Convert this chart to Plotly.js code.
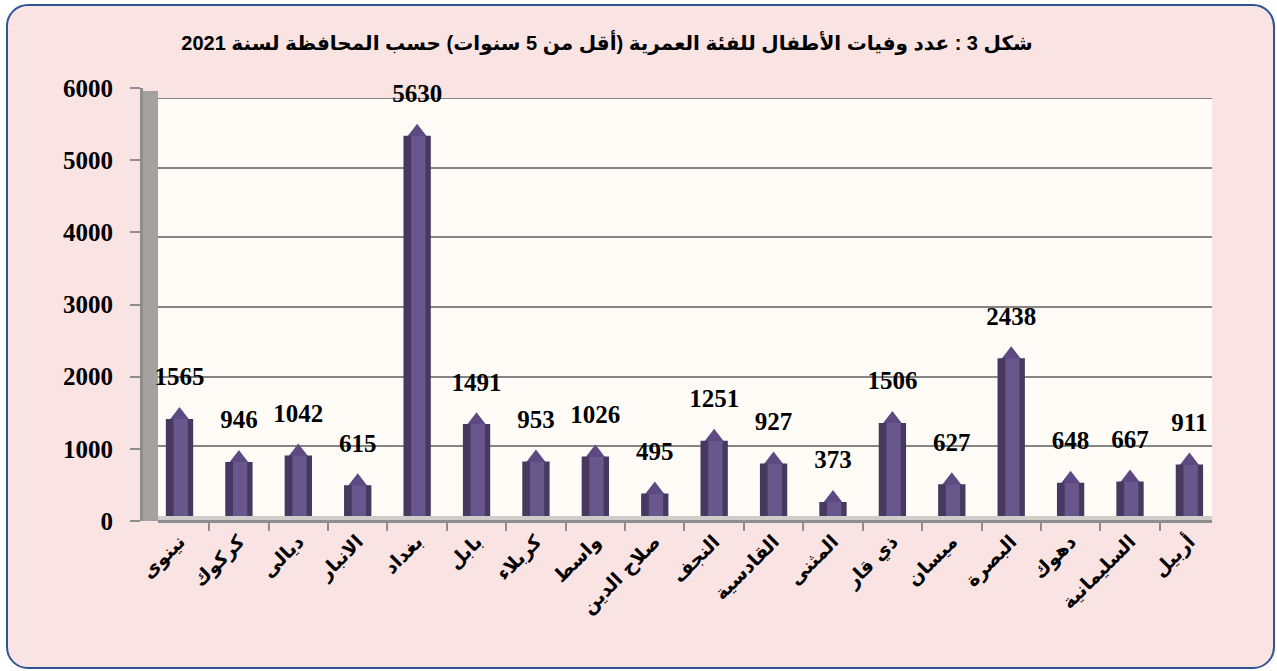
<!DOCTYPE html>
<html><head><meta charset="utf-8">
<script src="https://cdn.plot.ly/plotly-3.0.1.min.js"></script>
<style>
html,body{margin:0;padding:0;background:#ffffff;width:1277px;height:671px;overflow:hidden}
#frame{position:absolute;left:6px;top:4px;width:1265px;height:661px;border:2px solid #2F5496;border-radius:22px;background:#FAE4E3;}
#chart{position:absolute;left:0;top:0;width:1277px;height:671px}
</style></head><body>
<div id="frame"></div><div id="chart"></div>
<script>
const chartTitle = 'شكل 3 : عدد وفيات الأطفال للفئة العمرية (أقل من 5 سنوات) حسب المحافظة لسنة 2021';
const provinces = ['نينوى','كركوك','ديالى','الانبار','بغداد','بابل','كربلاء','واسط','صلاح الدين','النجف','القادسية','المثنى','ذي قار','ميسان','البصرة','دهوك','السليمانية','أربيل'];
const deaths = [1565, 946, 1042, 615, 5630, 1491, 953, 1026, 495, 1251, 927, 373, 1506, 627, 2438, 648, 667, 911];
const yTickVals = [0, 1000, 2000, 3000, 4000, 5000, 6000];

const serifBold = {family: 'Liberation Serif, Times New Roman, serif', size: 25, color: '#000000', weight: 'bold'};

const traces = [
  {type: 'bar', x: provinces, y: deaths, yaxis: 'y3', width: 0.46,
   marker: {color: '#46385F', line: {width: 0}}, hoverinfo: 'skip', showlegend: false},
  {type: 'bar', x: provinces, y: deaths, yaxis: 'y3', width: 0.24, offset: -0.1,
   marker: {color: '#67578D', line: {width: 0}}, hoverinfo: 'skip', showlegend: false},
  {type: 'scatter', mode: 'markers+text', x: provinces, y: deaths,
   marker: {symbol: 'triangle-up', size: 23, color: '#5C4B83', standoff: 11.5, line: {width: 0}},
   text: deaths.map(String), textposition: 'top center', textfont: serifBold,
   cliponaxis: false, hoverinfo: 'skip', showlegend: false},
  {type: 'scatter', mode: 'markers', x: [provinces[0]], y: [null], yaxis: 'y2',
   hoverinfo: 'skip', showlegend: false}
];

const W = 1277, H = 671;
const plotL = 141, plotR = 1212, plotT = 88, plotB = 521;
const innerL = 158, innerB = 516, innerT = 98;
const pw = plotR - plotL, ph = plotB - plotT;

const layout = {
  width: W, height: H,
  margin: {l: plotL, r: W - plotR, t: plotT, b: H - plotB, pad: 0},
  paper_bgcolor: 'rgba(0,0,0,0)', plot_bgcolor: 'rgba(0,0,0,0)',
  barmode: 'overlay',
  title: {text: chartTitle, font: {family: 'Liberation Sans, Arial, DejaVu Sans, sans-serif', size: 20, color: '#000', weight: 'bold'},
          xref: 'container', yref: 'container', x: 607 / W, y: 1 - 43 / H, xanchor: 'center', yanchor: 'middle'},
  xaxis: {type: 'category', domain: [(innerL - plotL) / pw, 1], range: [-0.362, 17.38],
          anchor: 'free', position: 0, showgrid: false, zeroline: false,
          showline: true, linecolor: '#8E8E8E', linewidth: 3,
          ticks: 'outside', tickson: 'boundaries', ticklen: 8, tickwidth: 2, tickcolor: '#8E8E8E',
          tickangle: -45, ticklabelstandoff: 0,
          tickfont: {family: 'DejaVu Sans, sans-serif', size: 19, color: '#000', weight: 'bold'}},
  yaxis: {domain: [(plotB - innerB) / ph, (plotB - innerT) / ph], range: [0, 6000],
          tickvals: yTickVals, showticklabels: false, ticks: '', showline: false,
          showgrid: true, gridcolor: '#858585', gridwidth: 2, zeroline: false},
  yaxis3: {overlaying: 'y', range: [172, 6172], visible: false, showgrid: false, zeroline: false},
  yaxis2: {domain: [0, 1], anchor: 'free', position: 0, side: 'left', range: [0, 6000],
           tickvals: yTickVals, showgrid: false, zeroline: false,
           showline: true, linecolor: '#8E8E8E', linewidth: 3,
           ticks: 'outside', ticklen: 10, tickwidth: 2, tickcolor: '#8E8E8E',
           ticklabelstandoff: 12, tickfont: serifBold},
  shapes: [
    {type: 'rect', layer: 'below', xref: 'x domain', yref: 'y domain', x0: 0, x1: 1, y0: 0, y1: 1,
     fillcolor: '#FFFCF8', line: {width: 0}},
    {type: 'rect', layer: 'below', xref: 'paper', yref: 'paper', x0: 0, x1: (innerL - plotL) / pw, y0: 0, y1: (plotB - 91) / ph,
     fillcolor: '#A5A19E', line: {width: 0}},
    {type: 'rect', layer: 'below', xref: 'x domain', yref: 'paper', x0: 0, x1: 1, y0: 0, y1: (plotB - innerB) / ph,
     fillcolor: '#CFCCC9', line: {width: 0}},
    {type: 'line', layer: 'below', xref: 'x domain', yref: 'y', x0: 0, x1: 1, y0: yTickVals[yTickVals.length - 1], y1: yTickVals[yTickVals.length - 1],
     line: {color: '#858585', width: 2}}
  ],
  showlegend: false
};

Plotly.newPlot('chart', traces, layout, {staticPlot: true, displayModeBar: false});
</script>
</body></html>
